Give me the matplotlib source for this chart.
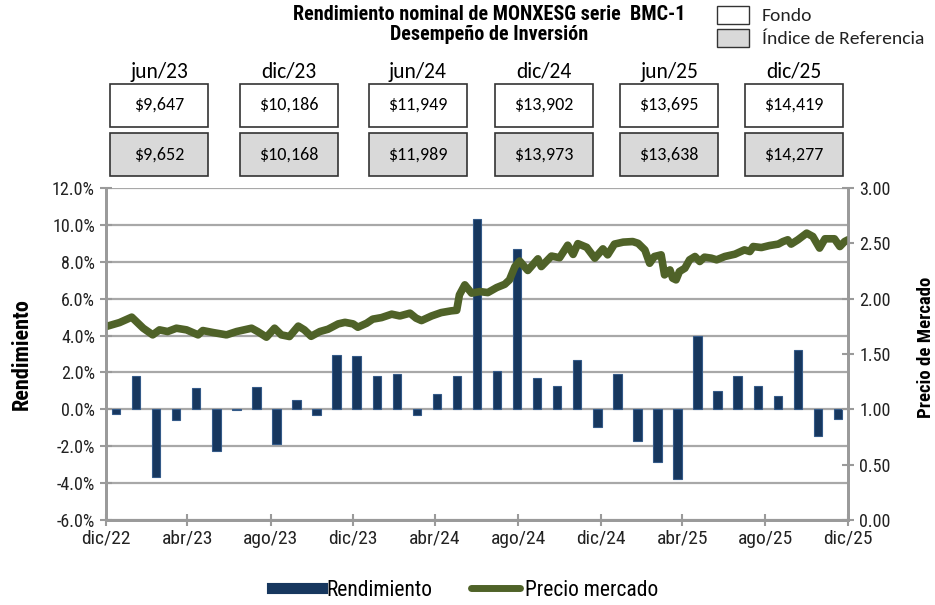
import numpy as np
import pandas as pd
import matplotlib
matplotlib.use("Agg")
import matplotlib.pyplot as plt
from matplotlib.patches import Rectangle
from matplotlib.lines import Line2D

# monthly returns (%), dic/22 .. dic/25
rendimiento = [-0.23, 1.80, -3.66, -0.56, 1.14, -2.27, -0.05, 1.20, -1.86, 0.49,
               -0.29, 2.95, 2.88, 1.80, 1.93, -0.29, 0.85, 1.82, 10.34, 2.10,
               8.68, 1.69, 1.26, 2.65, -0.95, 1.93, -1.73, -2.85, -3.78, 3.95,
               0.97, 1.82, 1.26, 0.70, 3.22, -1.44, -0.54]

# market price
precio_fechas = ['2022-12-31', '2023-01-20', '2023-02-07', '2023-02-24', '2023-03-10',
                 '2023-03-20', '2023-04-01', '2023-04-14', '2023-04-29', '2023-05-16',
                 '2023-05-23', '2023-06-07', '2023-06-27', '2023-07-12', '2023-08-03',
                 '2023-08-12', '2023-08-25', '2023-09-06', '2023-09-16', '2023-09-28',
                 '2023-10-11', '2023-10-20', '2023-10-30', '2023-11-12', '2023-11-24',
                 '2023-12-09', '2023-12-19', '2023-12-31', '2024-01-07', '2024-01-20',
                 '2024-01-29', '2024-02-11', '2024-02-26', '2024-03-09', '2024-03-24',
                 '2024-04-02', '2024-04-10', '2024-04-25', '2024-05-09', '2024-05-24',
                 '2024-06-01', '2024-06-05', '2024-06-13', '2024-06-23', '2024-07-05',
                 '2024-07-17', '2024-07-30', '2024-08-11', '2024-08-18', '2024-08-26',
                 '2024-09-02', '2024-09-14', '2024-09-29', '2024-10-04', '2024-10-19',
                 '2024-10-31', '2024-11-12', '2024-11-20', '2024-11-27', '2024-12-10',
                 '2024-12-22', '2025-01-03', '2025-01-10', '2025-01-20', '2025-02-02',
                 '2025-02-16', '2025-02-24', '2025-03-06', '2025-03-13', '2025-03-20',
                 '2025-03-30', '2025-04-04', '2025-04-12', '2025-04-16', '2025-04-21',
                 '2025-04-26', '2025-05-04', '2025-05-11', '2025-05-19', '2025-05-26',
                 '2025-06-02', '2025-06-12', '2025-06-20', '2025-07-02', '2025-07-17',
                 '2025-07-31', '2025-08-08', '2025-08-13', '2025-08-25', '2025-09-06',
                 '2025-09-19', '2025-09-26', '2025-10-03', '2025-10-08', '2025-10-18',
                 '2025-10-31', '2025-11-09', '2025-11-19', '2025-11-27', '2025-12-11',
                 '2025-12-19', '2025-12-26', '2025-12-31']
precio = [1.748, 1.784, 1.833, 1.733, 1.673, 1.718, 1.703, 1.733, 1.718, 1.673,
          1.712, 1.694, 1.673, 1.703, 1.733, 1.703, 1.652, 1.733, 1.673, 1.658,
          1.752, 1.718, 1.660, 1.703, 1.724, 1.772, 1.786, 1.772, 1.742, 1.778,
          1.815, 1.829, 1.860, 1.844, 1.869, 1.824, 1.802, 1.844, 1.874, 1.890,
          1.895, 2.034, 2.125, 2.050, 2.064, 2.055, 2.100, 2.130, 2.170, 2.290,
          2.340, 2.255, 2.360, 2.290, 2.385, 2.370, 2.483, 2.400, 2.497, 2.464,
          2.366, 2.450, 2.396, 2.493, 2.511, 2.516, 2.500, 2.440, 2.320, 2.381,
          2.396, 2.215, 2.260, 2.185, 2.170, 2.245, 2.275, 2.351, 2.381, 2.336,
          2.375, 2.366, 2.351, 2.381, 2.402, 2.441, 2.426, 2.471, 2.462, 2.480,
          2.493, 2.516, 2.532, 2.493, 2.532, 2.592, 2.562, 2.457, 2.541, 2.541,
          2.471, 2.516, 2.532]

# boxes at the top
box_fechas = ['jun/23', 'dic/23', 'jun/24', 'dic/24', 'jun/25', 'dic/25']
fondo_vals = ['$9,647', '$10,186', '$11,949', '$13,902', '$13,695', '$14,419']
indice_vals = ['$9,652', '$10,168', '$11,989', '$13,973', '$13,638', '$14,277']

tick_fechas = pd.date_range('2022-12-31', '2025-12-31', freq='4ME')
tick_labels = ['dic/22', 'abr/23', 'ago/23', 'dic/23', 'abr/24', 'ago/24',
               'dic/24', 'abr/25', 'ago/25', 'dic/25']

narrow = ['Roboto Condensed', 'Liberation Sans', 'DejaVu Sans']
calib = ['Carlito', 'Lato', 'DejaVu Sans']
W, H = 935, 605

fig = plt.figure(figsize=(9.35, 6.05), dpi=100)
ax = fig.add_axes([106 / W, 1 - 520 / H, 742 / W, 332 / H])
ax_b = ax.twiny()
ax2 = ax.twinx()

grey = '#9a9a9a'
ax.set_ylim(-6, 12)
ax.set_yticks(np.arange(-6, 12.1, 2))
ax.set_yticklabels([f'{v:.1f}%' for v in np.arange(-6, 12.1, 2)])
ax.yaxis.grid(True, color='#a8a8a8', lw=1.6)
ax.set_axisbelow(True)
ax.set_xlim(pd.Timestamp('2022-12-31'), pd.Timestamp('2025-12-31'))
ax.set_xticks(tick_fechas)
ax.set_xticklabels(tick_labels)

# bars on a category axis
n = len(rendimiento)
ax_b.set_xlim(-0.5, n - 0.5)
ax_b.bar(np.arange(n), rendimiento, width=0.42, color='#17375e',
         edgecolor='#345a88', lw=0.8, zorder=3)
ax_b.set_xticks([])

ax2.plot(pd.to_datetime(precio_fechas), precio, color='#4f6228', lw=5.5,
         solid_capstyle='round', solid_joinstyle='round')
ax2.set_ylim(0, 3)
ax2.set_yticks(np.arange(0, 3.01, 0.5))
ax2.set_yticklabels([f'{v:.2f}' for v in np.arange(0, 3.01, 0.5)])

for a in (ax, ax_b, ax2):
    a.spines['top'].set_visible(False)
    for s in ('left', 'right', 'bottom'):
        a.spines[s].set_color(grey)
        a.spines[s].set_linewidth(1.8)
ax.tick_params(axis='both', direction='inout', length=8, width=1.5, color=grey,
               labelsize=13, labelcolor='#222222', pad=4)
ax.tick_params(axis='x', labelsize=14, pad=3)
ax2.tick_params(axis='y', direction='inout', length=8, width=1.5, color=grey,
                labelsize=13, labelcolor='#222222', pad=4)
for lab in ax.get_xticklabels() + ax.get_yticklabels() + ax2.get_yticklabels():
    lab.set_family(narrow)

ax.set_ylabel('Rendimiento', fontsize=16, fontweight='bold', family=narrow, labelpad=14)
ax2.set_ylabel('Precio de Mercado', fontsize=13.5, fontweight='bold', family=narrow, labelpad=19)
ax2.yaxis.label.set_y(0.52)

# title
fig.text(489 / W, 1 - 14 / H, 'Rendimiento nominal de MONXESG serie  BMC-1',
         ha='center', va='center', fontsize=14.5, fontweight='bold', family=narrow)
fig.text(489 / W, 1 - 35 / H, 'Desempeño de Inversión',
         ha='center', va='center', fontsize=14.5, fontweight='bold', family=narrow)

# top right key
fig.patches.append(Rectangle((717 / W, 1 - 24 / H), 32 / W, 18 / H, transform=fig.transFigure,
                             facecolor='white', edgecolor='#333333', lw=1))
fig.patches.append(Rectangle((717 / W, 1 - 47 / H), 32 / W, 18 / H, transform=fig.transFigure,
                             facecolor='#d9d9d9', edgecolor='#333333', lw=1))
fig.text(762 / W, 1 - 16 / H, 'Fondo', va='center', fontsize=14, family=calib, color='#222222')
fig.text(762 / W, 1 - 39 / H, 'Índice de Referencia', va='center', fontsize=14,
         family=calib, color='#222222')

# value boxes
lefts = [110, 240, 369, 495, 620, 745]
bw = 98
for x0, lab, fv, iv in zip(lefts, box_fechas, fondo_vals, indice_vals):
    cx = (x0 + bw / 2) / W
    fig.text(cx, 1 - 72 / H, lab, ha='center', va='center', fontsize=15.5, family=calib)
    fig.patches.append(Rectangle((x0 / W, 1 - 127 / H), bw / W, 43 / H, transform=fig.transFigure,
                                 facecolor='white', edgecolor='#333333', lw=1.2))
    fig.patches.append(Rectangle((x0 / W, 1 - 176 / H), bw / W, 43 / H, transform=fig.transFigure,
                                 facecolor='#d9d9d9', edgecolor='#333333', lw=1.2))
    fig.text(cx, 1 - 105 / H, fv, ha='center', va='center', fontsize=13, family=calib)
    fig.text(cx, 1 - 155 / H, iv, ha='center', va='center', fontsize=13, family=calib)

handles = [Line2D([], [], color='#17375e', lw=8),
           Line2D([], [], color='#4f6228', lw=5, solid_capstyle='round')]
fig.legend(handles, ['Rendimiento', 'Precio mercado'], loc='center',
           bbox_to_anchor=(465 / W, 1 - 590 / H), ncol=2, frameon=False,
           handlelength=2.3, handletextpad=0.2, columnspacing=1.8,
           prop={'family': narrow, 'size': 15.5})

fig.savefig('out.png', dpi=100)
